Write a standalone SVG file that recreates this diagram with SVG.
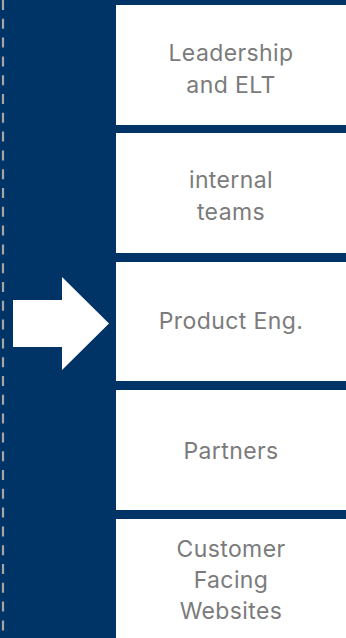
<svg xmlns="http://www.w3.org/2000/svg" width="346" height="638" viewBox="0 0 346 638">
  <style>
    .bg { fill: #003366; }
    .box { fill: #ffffff; }
    .lbl { font-family: Inter, "Liberation Sans", sans-serif; font-size: 23px; letter-spacing: 0.4px; fill: #7b7b7b; text-anchor: middle; }
    .dash { stroke: #a6a6a6; stroke-width: 2.2; stroke-dasharray: 10 8.8; fill: none; }
  </style>
  <rect class="bg" x="0" y="0" width="346" height="638"/>
  <line class="dash" x1="3" y1="0" x2="3" y2="638"/>
  <g id="arrow">
    <polygon points="13,300 62,300 62,277 109,323.5 62,370 62,347 13,347" fill="#ffffff"/>
  </g>
  <g id="node-leadership">
    <rect class="box" x="116" y="5" width="230" height="120"/>
    <text class="lbl" x="231" y="61">Leadership</text>
    <text class="lbl" x="231" y="93">and ELT</text>
  </g>
  <g id="node-internal">
    <rect class="box" x="116" y="133" width="230" height="120"/>
    <text class="lbl" x="231" y="188">internal</text>
    <text class="lbl" x="231" y="220">teams</text>
  </g>
  <g id="node-product">
    <rect class="box" x="116" y="262" width="230" height="119"/>
    <text class="lbl" x="231" y="329">Product Eng.</text>
  </g>
  <g id="node-partners">
    <rect class="box" x="116" y="390" width="230" height="120"/>
    <text class="lbl" x="231" y="459">Partners</text>
  </g>
  <g id="node-customer">
    <rect class="box" x="116" y="519" width="230" height="119"/>
    <text class="lbl" x="231" y="557">Customer</text>
    <text class="lbl" x="231" y="588">Facing</text>
    <text class="lbl" x="231" y="619">Websites</text>
  </g>
  <g id="connectors"></g>
</svg>
